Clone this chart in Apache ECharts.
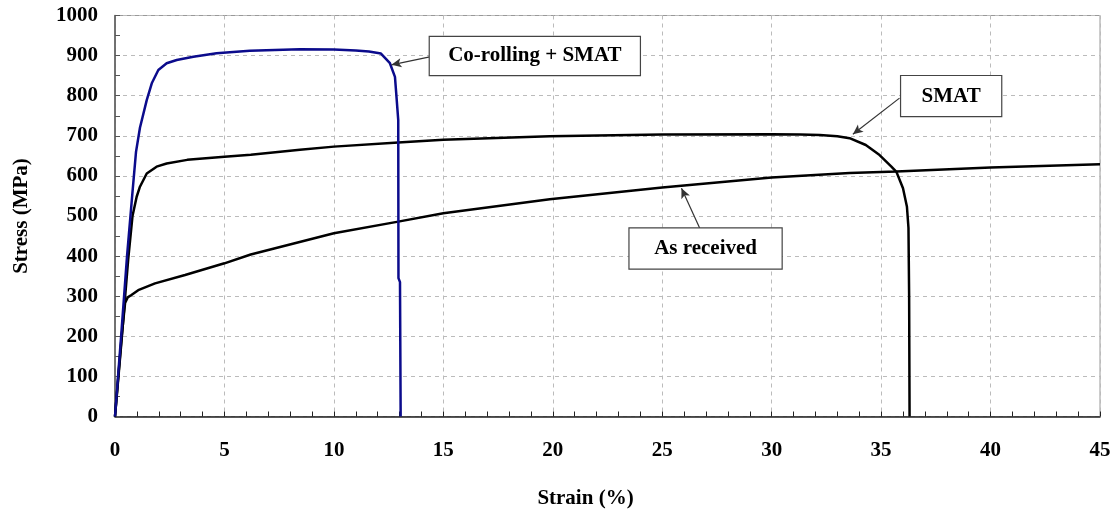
<!DOCTYPE html>
<html>
<head>
<meta charset="utf-8">
<script src="https://cdn.jsdelivr.net/npm/echarts@6/dist/echarts.min.js"></script>
<style>
html,body{margin:0;padding:0;background:#fff;}
#chart{width:1119px;height:516px;}
</style>
</head>
<body>
<div id="chart"></div>
<script>
// ---- data ----
var xTicks = [0, 5, 10, 15, 20, 25, 30, 35, 40, 45];
var yTicks = [0, 100, 200, 300, 400, 500, 600, 700, 800, 900, 1000];

var corollStrain = [0, 0.3, 0.55, 0.8, 0.96, 1.14, 1.45, 1.68, 1.98, 2.36, 2.82, 3.58, 4.64, 6.16, 8.45, 10, 11, 11.6, 12.15, 12.56, 12.79, 12.86, 12.94, 12.95, 13.02, 13.05];
var corollStress = [0, 215, 400, 560, 660, 720, 789, 831, 864, 881, 889, 897, 906, 912, 916, 915, 913, 910, 905, 881, 847, 797, 739, 345, 335, 0];

var smatStrain = [0, 0.15, 0.3, 0.45, 0.6, 0.8, 0.99, 1.14, 1.45, 1.9, 2.36, 3.3, 5, 6.2, 8.45, 10, 12.94, 15, 19.86, 25, 30, 31.3, 32.2, 33.0, 33.56, 34.3, 34.93, 35.47, 35.7, 36.0, 36.18, 36.25, 36.28, 36.3];
var smatStress = [0, 95, 190, 290, 390, 500, 548, 573, 606, 623, 631, 640, 648, 653, 665, 673, 683, 690, 699, 703, 704, 703, 702, 699, 694, 677, 652, 623, 610, 569, 523, 470, 300, 0];

var asrecStrain = [0, 0.15, 0.31, 0.46, 0.58, 0.75, 1.06, 1.83, 3.2, 5, 6.2, 10, 12.94, 15, 19.86, 25, 30, 33.56, 35.7, 40, 45];
var asrecStress = [0, 100, 203, 283, 297, 303, 315, 332, 353, 382, 404, 457, 486, 507, 542, 571, 596, 607, 611, 621, 629];

var labelNames = ['Co-rolling + SMAT', 'SMAT', 'As received'];
var labelPos = [[19.18, 899], [38.2, 799], [26.98, 419]];
var arrowFrom = [[14.38, 897], [35.84, 794], [26.71, 470]];
var arrowTo = [[12.63, 877], [33.71, 704], [25.88, 569]];
var labelBox = [[178, 20], [68, 22], [120, 22]];

function zip(a, b) { return a.map(function (v, i) { return [v, b[i]]; }); }

var font = 'Liberation Serif';
var chart = echarts.init(document.getElementById('chart'), null, {renderer: 'canvas'});

var markPointData = labelNames.map(function (n, i) {
  return {
    name: n, coord: labelPos[i], symbolSize: 0,
    label: {
      show: true, position: 'inside', formatter: n,
      color: '#000', fontFamily: font, fontWeight: 'bold', fontSize: 21,
      backgroundColor: '#fff', borderColor: '#444', borderWidth: 1.2,
      width: labelBox[i][0], height: labelBox[i][1], align: 'center', verticalAlign: 'middle',
      padding: [9, 16]
    }
  };
});
var markLineData = arrowFrom.map(function (p, i) {
  return [{coord: p}, {coord: arrowTo[i]}];
});

var option = {
  animation: false,
  backgroundColor: '#fff',
  grid: {left: 115, right: 19, top: 15.5, bottom: 99.5, show: true, borderColor: '#999', borderWidth: 1},
  xAxis: {
    type: 'value', min: 0, max: 45, interval: 5,
    name: 'Strain (%)', nameLocation: 'middle', nameGap: 72,
    nameTextStyle: {fontFamily: font, fontWeight: 'bold', fontSize: 21, color: '#000', padding: [0, 44, 0, 0]},
    axisLine: {show: true, lineStyle: {color: '#222', width: 1.5}},
    axisTick: {show: true, inside: true, length: 5, lineStyle: {color: '#222'}},
    minorTick: {show: true, splitNumber: 5, length: 5, lineStyle: {color: '#222'}},
    axisLabel: {margin: 24, fontFamily: font, fontWeight: 'bold', fontSize: 21, color: '#000',
      formatter: function (v) { return xTicks.indexOf(v) >= 0 ? String(v) : ''; }},
    splitLine: {show: true, lineStyle: {color: '#bbb', type: [4, 4], width: 1}}
  },
  yAxis: {
    type: 'value', min: 0, max: 1000, interval: 100,
    name: 'Stress (MPa)', nameLocation: 'middle', nameGap: 83,
    nameTextStyle: {fontFamily: font, fontWeight: 'bold', fontSize: 21, color: '#000'},
    axisLine: {show: true, lineStyle: {color: '#555', width: 1.5}},
    axisTick: {show: true, inside: true, length: 5, lineStyle: {color: '#555'}},
    minorTick: {show: true, splitNumber: 2, length: 5, lineStyle: {color: '#555'}},
    axisLabel: {margin: 17, fontFamily: font, fontWeight: 'bold', fontSize: 21, color: '#000',
      formatter: function (v) { return yTicks.indexOf(v) >= 0 ? String(v) : ''; }},
    splitLine: {show: true, lineStyle: {color: '#bbb', type: [4, 4], width: 1}}
  },
  series: [
    {
      name: 'As received', type: 'line', data: zip(asrecStrain, asrecStress),
      showSymbol: false, smooth: false, lineStyle: {color: '#000', width: 2.5}, z: 3
    },
    {
      name: 'SMAT', type: 'line', data: zip(smatStrain, smatStress),
      showSymbol: false, smooth: false, lineStyle: {color: '#000', width: 2.5}, z: 3
    },
    {
      name: 'Co-rolling + SMAT', type: 'line', data: zip(corollStrain, corollStress),
      showSymbol: false, smooth: false, lineStyle: {color: '#0b0b8c', width: 2.5}, z: 4
    },
    {
      name: 'annotations', type: 'line', data: [], silent: true, z: 6,
      markLine: {
        silent: true, symbol: ['none', 'arrow'], symbolSize: [7, 10],
        lineStyle: {color: '#333', width: 1.2, type: 'solid'},
        label: {show: false}, data: markLineData
      },
      markPoint: {silent: true, data: markPointData}
    }
  ]
};
chart.setOption(option);
</script>
</body>
</html>
